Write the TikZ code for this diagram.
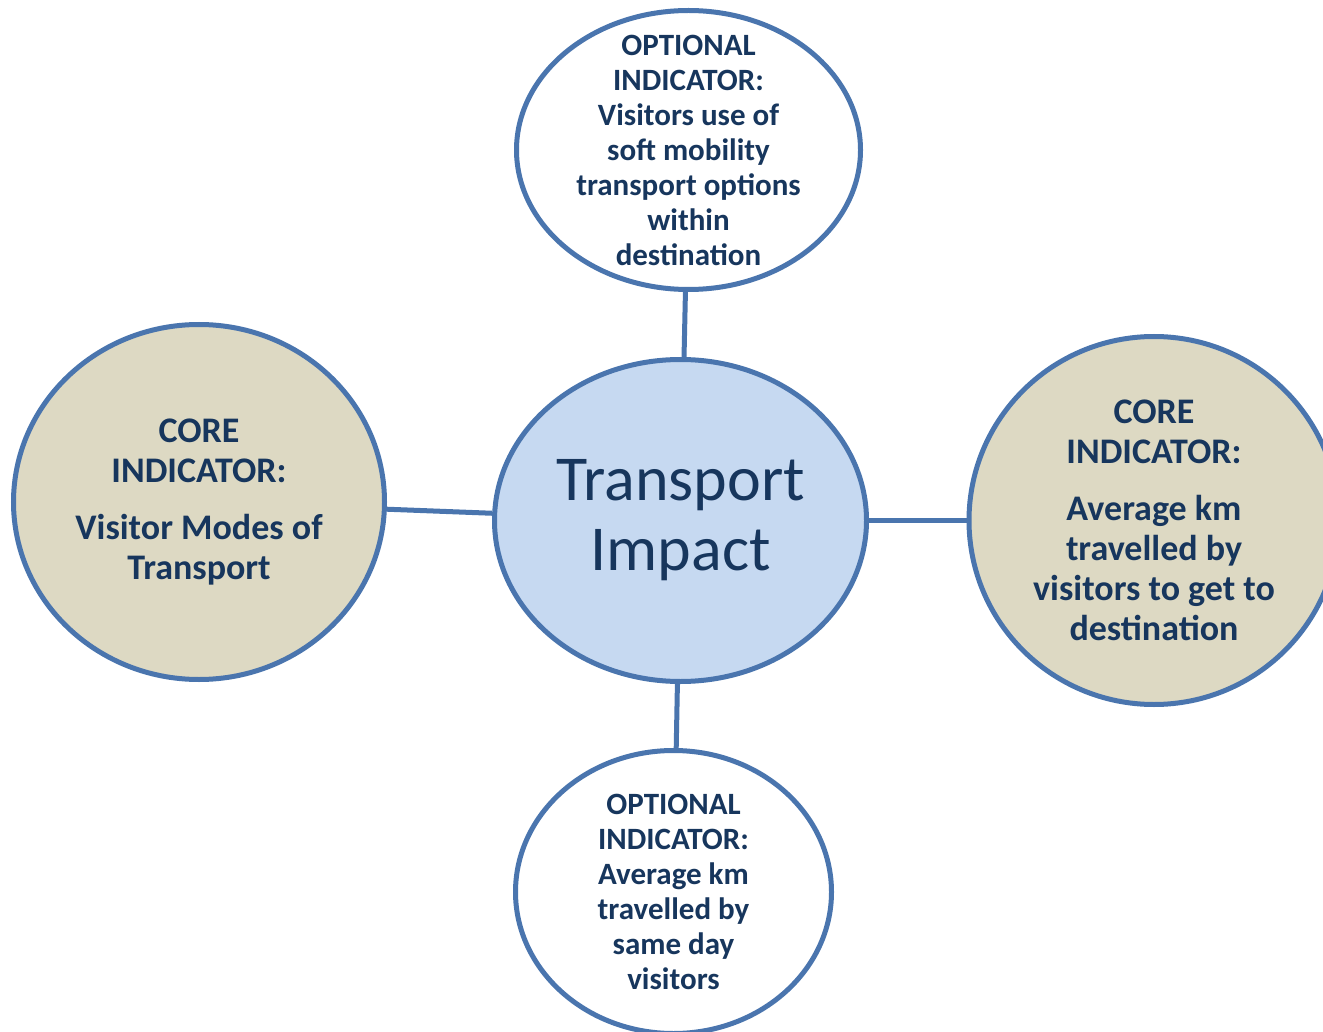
\documentclass[tikz,border=0pt]{standalone}
\usepackage{fontspec}
\setmainfont{Carlito}
\usetikzlibrary{shapes.geometric}
\usepackage{xcolor}
\definecolor{rim}{HTML}{4A75AE}
\definecolor{ink}{HTML}{17365D}
\definecolor{hubfill}{HTML}{C6D9F1}
\definecolor{corefill}{HTML}{DDD9C3}
\tikzset{
  bubble/.style={ellipse, draw=rim, line width=5pt, inner sep=-40pt,
                 align=center, text=ink},
  hubnode/.style={bubble, fill=hubfill,
                  font=\fontsize{64}{70}\selectfont},
  corenode/.style={bubble, fill=corefill,
                   font=\fontsize{36}{40}\selectfont\bfseries},
  optnode/.style={bubble, fill=white,
                  font=\fontsize{31}{35}\selectfont\bfseries},
  link/.style={draw=rim, line width=5pt},
}

\begin{document}
\begin{tikzpicture}[x=1pt, y=-1pt]
  \useasboundingbox (0,0) rectangle (1323,1032);

  %% Hub
  \node[hubnode, minimum width=372pt, minimum height=322pt] (hub)
    at (680.5,520.5) {Transport\\Impact};

  %% Indicators round the hub
  \node[optnode, minimum width=344pt, minimum height=279pt] (optTop)
    at (688.5,150) {OPTIONAL\\INDICATOR:\\Visitors use of\\soft mobility\\
                    transport options\\within\\destination};
  \node[corenode, minimum width=371pt, minimum height=355pt] (coreLeft)
    at (199,502) {CORE\\INDICATOR:\\[17pt]Visitor Modes of\\Transport};
  \node[corenode, minimum width=370pt, minimum height=368pt] (coreRight)
    at (1154,520.5) {CORE\\INDICATOR:\\[17pt]Average km\\travelled by\\
                      visitors to get to\\destination};
  \node[optnode, minimum width=316pt, minimum height=283pt] (optBottom)
    at (673.5,892) {OPTIONAL\\INDICATOR:\\Average km\\travelled by\\
                     same day\\visitors};

  %% Spokes
  \foreach \n in {optTop, coreLeft, coreRight, optBottom}
    \draw[link] (hub) -- (\n);
\end{tikzpicture}
\end{document}
